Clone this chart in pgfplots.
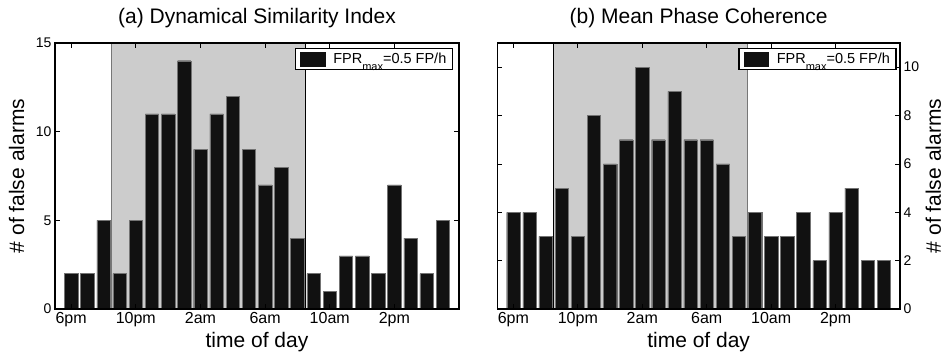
\documentclass[border=0pt]{standalone}
\usepackage{pgfplots}
\pgfplotsset{compat=1.18}
\usepackage{pgfplotstable}
\usepackage{fontspec}
\setmainfont{Liberation Sans}

\definecolor{barc}{HTML}{111111}
\definecolor{shade}{HTML}{CCCCCC}
\definecolor{edgegray}{HTML}{777777}

\pgfplotstableread{
x a b
1 2 4
2 2 4
3 5 3
4 2 5
5 5 3
6 11 8
7 11 6
8 14 7
9 9 10
10 11 7
11 12 9
12 9 7
13 7 7
14 8 6
15 4 3
16 2 4
17 1 3
18 3 3
19 3 4
20 2 2
21 7 4
22 4 5
23 2 2
24 5 2
}\datatable

\pgfplotsset{
  myax/.style={
    scale only axis, height=266pt, xmin=0, xmax=25, ymin=0,
    xtick={1,5,9,13,17,21}, xticklabels={6pm,10pm,2am,6am,10am,2pm},
    tick align=inside, major tick length=5pt,
    axis line style={line width=1.1pt},
    tick style={line width=0.8pt, black},
    axis on top,
    /pgf/number format/assume math mode=true,
    xticklabel style={font=\fontsize{16}{16}\selectfont},
    yticklabel style={font=\fontsize{14}{14}\selectfont},
    title style={font=\fontsize{21}{21}\selectfont, at={(axis description cs:0.5,1)}, anchor=base, yshift=13pt},
    every axis x label/.style={font=\fontsize{21}{21}\selectfont, at={(axis description cs:0.5,0)}, anchor=base, yshift=-39pt},
    legend style={at={(1,1)}, anchor=north east, draw=black, line width=1.3pt, fill=white,
      font=\fontsize{14.5}{14.5}\selectfont, inner xsep=5pt, inner ysep=2.5pt,
      nodes={inner xsep=1pt, inner ysep=2pt}, column sep=7pt, cells={anchor=west}},
    legend image code/.code={\fill[barc] (0pt,-7.3pt) rectangle (24.5pt,7.3pt);},
  },
  mybar/.style={ybar, bar shift=0pt, bar width=0.83, fill=barc, draw=black!55, line width=0.4pt},
}

\begin{document}
\begin{tikzpicture}
\path[use as bounding box] (0,0) rectangle (945pt,352pt);

\begin{axis}[myax, at={(55pt,43pt)}, anchor=south west, width=404pt,
  ymax=15, ytick={0,5,10,15},
  title={(a) Dynamical Similarity Index},
  xlabel={time of day},
  every axis y label/.style={font=\fontsize{21}{21}\selectfont, at={(axis description cs:-0.0948,0.5)}, rotate=90, anchor=center},
  ylabel={\# of false alarms},
  legend style={xshift=-6pt, yshift=-5pt},
]
\addplot[fill=shade, draw=none, forget plot] coordinates {(3.5,0) (3.5,15) (15.5,15) (15.5,0) (3.5,0)};
\addplot[edgegray, line width=0.9pt, forget plot] coordinates {(3.5,0) (3.5,15)};
\addplot[black, line width=0.9pt, forget plot] coordinates {(15.5,0) (15.5,15)};
\addplot[mybar] table[x=x, y=a] {\datatable};
\addlegendentry{FPR\raisebox{-7pt}{\fontsize{11}{11}\selectfont max}=0.5 FP/h}
\end{axis}

\begin{axis}[myax, at={(497.3pt,43pt)}, anchor=south west, width=402.7pt,
  ymax=11, ytick={0,2,4,6,8,10},
  yticklabel pos=right,
  title={(b) Mean Phase Coherence},
  xlabel={time of day},
  every axis y label/.style={font=\fontsize{21}{21}\selectfont, at={(axis description cs:1.0827,0.5)}, rotate=90, anchor=center},
  ylabel={\# of false alarms},
  legend style={xshift=-3.5pt, yshift=-5pt},
]
\addplot[fill=shade, draw=none, forget plot] coordinates {(3.5,0) (3.5,11) (15.5,11) (15.5,0) (3.5,0)};
\addplot[black, line width=0.9pt, forget plot] coordinates {(3.5,0) (3.5,11)};
\addplot[edgegray, line width=0.9pt, forget plot] coordinates {(15.5,0) (15.5,11)};
\addplot[mybar] table[x=x, y=b] {\datatable};
\addlegendentry{FPR\raisebox{-7pt}{\fontsize{11}{11}\selectfont max}=0.5 FP/h}
\end{axis}
\end{tikzpicture}
\end{document}
